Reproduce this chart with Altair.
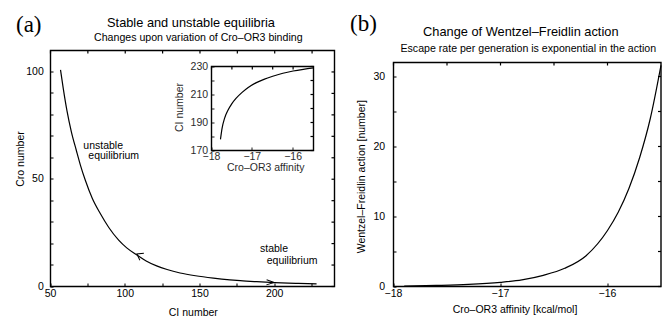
import altair as alt
import pandas as pd

# ---------------- data ----------------
# (a) main curve: Cro number vs CI number
ci_number = [56.7, 58.5, 61.0, 64.0, 67.3, 70.0, 73.3, 78.0, 83.3, 89.0, 95.6, 101.0, 107.8,
             114.0, 121.0, 128.0, 136.7, 147.0, 159.0, 170.0, 177.0, 188.0, 200.0, 214.0, 228.0]
cro_number = [101.0, 92.5, 82.0, 72.0, 63.4, 56.6, 49.5, 41.0, 34.0, 27.5, 21.6, 18.0, 14.7,
              11.9, 9.6, 7.9, 6.3, 5.0, 3.9, 3.1, 2.7, 2.25, 1.85, 1.5, 1.2]
arrow_ci = [107.8, 199.6]
arrow_cro = [15.2, 1.85]

# (a) inset: CI number vs Cro-OR3 affinity
inset_affinity = [-17.78, -17.74, -17.68, -17.6, -17.5, -17.4, -17.25, -17.1, -16.9, -16.7,
                  -16.5, -16.25, -16.0, -15.75, -15.5]
inset_ci = [178.0, 186.0, 193.0, 198.5, 203.5, 207.2, 211.5, 215.0, 218.5, 221.0,
            223.0, 225.2, 226.8, 228.0, 229.0]

# (b) Wentzel-Freidlin action vs Cro-OR3 affinity
wf_affinity = [-17.9, -17.6, -17.3, -17.0, -16.8, -16.6, -16.4, -16.2, -16.0, -15.9,
               -15.8, -15.7, -15.6, -15.5]
wf_action = [0.05, 0.15, 0.3, 0.6, 0.95, 1.6, 2.6, 4.4, 8.0, 10.6, 14.0, 18.4, 24.0, 31.6]

# axis limits and tick values
a_xlim, a_ylim = [50, 240], [0, 110]
in_xlim, in_ylim = [-18, -15.5], [170, 230]
b_xlim, b_ylim = [-18, -15.5], [0, 32]
ci_ticks = [50, 75, 100, 125, 150, 175, 200, 225]
cro_ticks = [0, 10, 20, 30, 40, 50, 60, 70, 80, 90, 100]
inset_x_ticks = [-18, -17.5, -17, -16.5, -16]
inset_y_ticks = [170, 180, 190, 200, 210, 220, 230]
aff_ticks = [-18, -17.5, -17, -16.5, -16]
wf_ticks = [0, 5, 10, 15, 20, 25, 30]

# ---------------- layout (pixels in the view) ----------------
FONT = "Liberation Sans"
W, H = 654, 310
A_X, A_Y = [42.5, 326.5], [278.5, 42.5]
IN_X, IN_Y = [203.5, 305.5], [142.5, 58.5]
B_X, B_Y = [385.5, 653], [278.5, 54.5]
TICK = 3
INK = "black"
FRAME_W = 1.4


def axis(orient, values, pos, label_expr, label_gap, title, title_xy, fmt=None):
    """Left / bottom axis with inward ticks; the frame itself is drawn by a rect."""
    offset = -(H - pos) if orient == "bottom" else -pos
    kw = dict(orient=orient, values=values, offset=offset, grid=False, domain=False,
              translate=0, ticks=True, tickColor=INK, tickWidth=1.2,
              tickSize=alt.ExprRef(expr=str(-TICK)),
              labels=True, labelFlush=False, labelOverlap=False,
              labelFont=FONT, labelFontSize=10.5, labelColor="black",
              labelPadding=label_gap + TICK, labelExpr=label_expr,
              title=title, titleFont=FONT, titleFontSize=10.5, titleFontWeight="normal",
              titleColor="black", titleX=title_xy[0], titleY=title_xy[1],
              titleBaseline="middle", titleAlign="center",
              titleAngle=270 if orient == "left" else 0)
    if fmt:
        kw["format"] = fmt
    return alt.Axis(**kw)


def sc(domain, rng):
    return alt.Scale(domain=domain, range=rng, nice=False, zero=False)


def frame(sx, sy, xlim, ylim, xticks, yticks, top, right):
    """Box around a panel plus inward ticks on its top and right sides."""
    box = alt.Chart(pd.DataFrame({"x0": [xlim[0]], "x1": [xlim[1]],
                                  "y0": [ylim[0]], "y1": [ylim[1]]})).mark_rect(
        fill="white", fillOpacity=0.15, stroke=INK, strokeWidth=FRAME_W
    ).encode(
        x=alt.X("x0:Q", scale=sx, axis=None),
        x2="x1:Q",
        y=alt.Y("y0:Q", scale=sy, axis=None),
        y2="y1:Q",
    )
    top_ticks = alt.Chart(pd.DataFrame({"t": xticks})).mark_rule(
        color=INK, strokeWidth=1.2
    ).encode(x=alt.X("t:Q", scale=sx, axis=None),
             y=alt.value(top), y2=alt.value(top + TICK))
    right_ticks = alt.Chart(pd.DataFrame({"t": yticks})).mark_rule(
        color=INK, strokeWidth=1.2
    ).encode(y=alt.Y("t:Q", scale=sy, axis=None),
             x=alt.value(right - TICK), x2=alt.value(right))
    return [box, top_ticks, right_ticks]


df_a = pd.DataFrame({"ci": ci_number, "cro": cro_number})
df_in = pd.DataFrame({"aff": inset_affinity, "ci": inset_ci})
df_b = pd.DataFrame({"aff": wf_affinity, "wf": wf_action})

sa_x, sa_y = sc(a_xlim, A_X), sc(a_ylim, A_Y)
si_x, si_y = sc(in_xlim, IN_X), sc(in_ylim, IN_Y)
sb_x, sb_y = sc(b_xlim, B_X), sc(b_ylim, B_Y)

line_kw = dict(color="black", strokeWidth=1.2, interpolate="monotone")

# panel (a) main
a_main = alt.Chart(df_a).mark_line(**line_kw).encode(
    x=alt.X("ci:Q", scale=sa_x, axis=axis(
        "bottom", ci_ticks, A_Y[0], "datum.value % 50 === 0 ? datum.label : ''", 2.5,
        "CI number", [185.3, 26.5])),
    y=alt.Y("cro:Q", scale=sa_y, axis=axis(
        "left", cro_ticks, A_X[0], "datum.value % 50 === 0 ? datum.label : ''", 6.7,
        "Cro number", [-30, 151])),
)
arrow_left = alt.Chart(pd.DataFrame({"ci": arrow_ci[:1], "cro": arrow_cro[:1]})).mark_point(
    shape="M 1.64 -1.15 L 0 0 L 1.64 1.15", filled=False, size=49, angle=30,
    strokeWidth=1, color="black", opacity=1,
).encode(x=alt.X("ci:Q", scale=sa_x, axis=None), y=alt.Y("cro:Q", scale=sa_y, axis=None))
arrow_right = alt.Chart(pd.DataFrame({"ci": arrow_ci[1:], "cro": arrow_cro[1:]})).mark_point(
    shape="M -1.9 -0.65 L 0 0 L -1.9 0.65", filled=False, size=64, angle=2,
    strokeWidth=1, color="black", opacity=1,
).encode(x=alt.X("ci:Q", scale=sa_x, axis=None), y=alt.Y("cro:Q", scale=sa_y, axis=None))

# inset
in_main = alt.Chart(df_in).mark_line(**line_kw).encode(
    x=alt.X("aff:Q", scale=si_x, axis=axis(
        "bottom", inset_x_ticks, IN_Y[0], "datum.value % 1 === 0 ? datum.label : ''", 1.0,
        "Cro\u2013OR3 affinity", [257.7, 17.5], fmt="d")),
    y=alt.Y("ci:Q", scale=si_y, axis=axis(
        "left", inset_y_ticks, IN_X[0], "(datum.value - 170) % 20 === 0 ? datum.label : ''",
        3.4, "CI number", [-31.4, 99.5])),
)

# panel (b)
b_main = alt.Chart(df_b).mark_line(**line_kw).encode(
    x=alt.X("aff:Q", scale=sb_x, axis=axis(
        "bottom", aff_ticks, B_Y[0], "datum.value % 1 === 0 ? datum.label : ''", 2.5,
        "Cro\u2013OR3 affinity [kcal/mol]", [507, 23], fmt="d")),
    y=alt.Y("wf:Q", scale=sb_y, axis=axis(
        "left", wf_ticks, B_X[0], "datum.value % 10 === 0 ? datum.label : ''", 8.3,
        "Wentzel\u2013Freidlin action [number]", [-31.6, 168.7])),
)


def text(t, x, y, size=10.5, align="left", font=FONT):
    return alt.Chart(alt.Data(values=[{}])).mark_text(
        text=t, font=font, fontSize=size, align=align, baseline="alphabetic", color="black"
    ).encode(x=alt.value(x), y=alt.value(y))


texts = [
    text("(a)", 8, 24, size=23, font="Liberation Serif"),
    text("(b)", 342, 23, size=23, font="Liberation Serif"),
    text("Stable and unstable equilibria", 183, 18.5, size=12.8, align="center"),
    text("Changes upon variation of Cro\u2013OR3 binding", 190.3, 33.3, size=10.6, align="center"),
    text("Change of Wentzel\u2013Freidlin action", 512.8, 27.5, size=12.8, align="center"),
    text("Escape rate per generation is exponential in the action", 520.3, 44, size=10.6,
         align="center"),
    text("unstable", 75.3, 141),
    text("equilibrium", 80.3, 151.3),
    text("stable", 252, 244.3),
    text("equilibrium", 258.7, 256),
]

layers = (
    frame(sa_x, sa_y, a_xlim, a_ylim, ci_ticks, cro_ticks, A_Y[1], A_X[1])
    + frame(si_x, si_y, in_xlim, in_ylim, inset_x_ticks, inset_y_ticks, IN_Y[1], IN_X[1])
    + frame(sb_x, sb_y, b_xlim, b_ylim, aff_ticks, wf_ticks, B_Y[1], B_X[1])
    + [a_main, arrow_left, arrow_right, in_main, b_main]
    + texts
)

chart = alt.layer(*layers).resolve_scale(x="independent", y="independent").properties(
    width=W, height=H, padding=0, autosize=alt.AutoSizeParams(type="none")
).configure_view(stroke=None)

chart.save("out.html", embed_options={"renderer": "svg", "actions": False})
